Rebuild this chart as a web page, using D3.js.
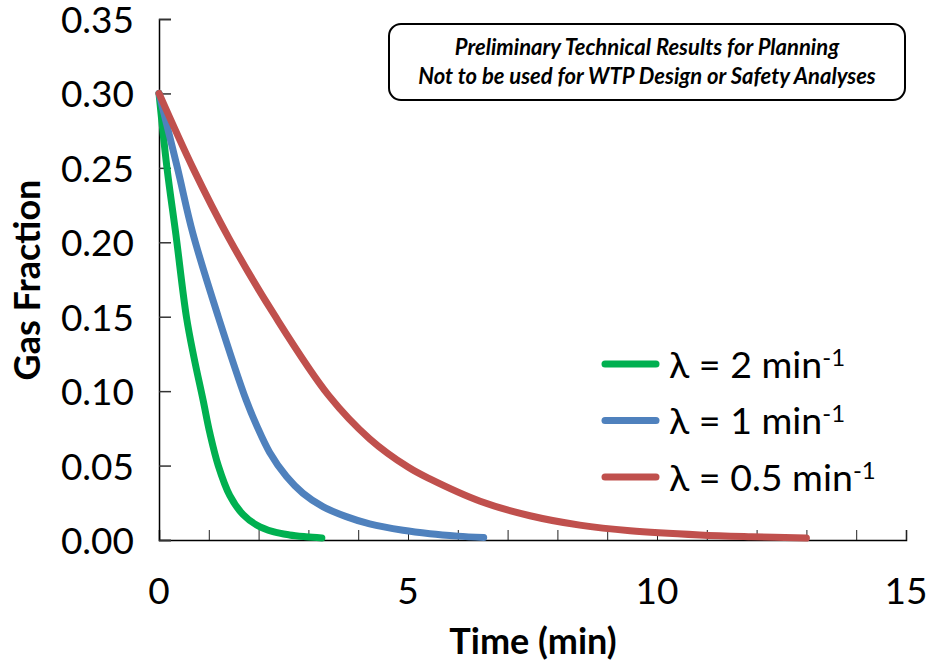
<!DOCTYPE html>
<html>
<head>
<meta charset="utf-8">
<script src="https://cdn.jsdelivr.net/npm/d3@7"></script>
<style>
  body { margin: 0; background: #fff; }
  svg { display: block; font-family: Lato, "Open Sans", sans-serif; }
</style>
</head>
<body>
<svg id="chart" width="930" height="666"></svg>
<script>
// values (time in min, gas fraction)
var lambda2 = [[0, 0.30], [0.16, 0.25], [0.34, 0.205], [0.55, 0.15], [0.70, 0.123],
  [0.885, 0.094], [1.02, 0.072], [1.19, 0.050], [1.42, 0.030], [1.69, 0.0170],
  [1.96, 0.0101], [2.29, 0.0056], [2.62, 0.0034], [2.95, 0.0022], [3.27, 0.0014]];
var lambda1 = [[0, 0.30], [0.37, 0.25], [0.68, 0.206], [1.19, 0.15], [1.75, 0.094],
  [1.96, 0.077], [2.22, 0.059], [2.56, 0.0426], [2.89, 0.0314], [3.29, 0.0224],
  [3.76, 0.0157], [4.23, 0.0108], [4.90, 0.0065], [5.44, 0.0042], [6.0, 0.0026],
  [6.52, 0.0016]];
var lambda05 = [[0, 0.30], [0.68, 0.25], [1.40, 0.203], [2.32, 0.151], [3.41, 0.097],
  [4.23, 0.068], [5.0, 0.049], [5.44, 0.041], [6.45, 0.026], [7.45, 0.0163],
  [8.45, 0.0100], [9.46, 0.0062], [10.86, 0.0034], [11.9, 0.0022], [13.0, 0.0013]];

var seriesNames = ['2', '1', '0.5'];
var seriesColors = ['#00B050', '#4F81BD', '#C0504D'];
var xTicks = [0, 5, 10, 15];
var yTicks = [0, 0.05, 0.10, 0.15, 0.20, 0.25, 0.30, 0.35];
var noteLines = ['Preliminary Technical Results for Planning',
  'Not to be used for WTP Design or Safety Analyses'];

var series = [lambda2, lambda1, lambda05].map(function (d, i) {
  return { name: seriesNames[i], color: seriesColors[i], values: d };
});

var svg = d3.select('#chart');
var M = { left: 159, right: 906, top: 19, bottom: 540 };

var x = d3.scaleLinear().domain([0, 15]).range([M.left, M.right]);
var y = d3.scaleLinear().domain([0, 0.35]).range([M.bottom, M.top]);

// x axis: minor ticks every minute pointing up, labels below
var xAxis = d3.axisTop(x).ticks(15).tickSize(10).tickFormat('');
svg.append('g')
  .attr('transform', 'translate(0,' + M.bottom + ')')
  .call(xAxis)
  .call(function (g) {
    g.select('.domain').attr('stroke', '#000').attr('stroke-width', 1.5);
    g.selectAll('.tick line').attr('stroke', '#222');
  });

svg.append('g').selectAll('text')
  .data(xTicks)
  .join('text')
  .attr('x', function (d) { return x(d); })
  .attr('y', 604)
  .attr('text-anchor', 'middle')
  .attr('font-size', 37)
  .text(function (d) { return d; });

// y axis: ticks pointing into the plot
var yAxis = d3.axisRight(y).tickValues(yTicks).tickSize(12).tickFormat('');
svg.append('g')
  .attr('transform', 'translate(' + M.left + ',0)')
  .call(yAxis)
  .call(function (g) {
    g.select('.domain').attr('stroke', '#000').attr('stroke-width', 1.5);
    g.selectAll('.tick line').attr('stroke', '#333').attr('stroke-width', 1.5);
  });

svg.append('g').selectAll('text')
  .data(yTicks)
  .join('text')
  .attr('x', 134)
  .attr('y', function (d) { return y(d) + 1; })
  .attr('dy', '0.35em')
  .attr('text-anchor', 'end')
  .attr('font-size', 37)
  .text(d3.format('.2f'));

svg.append('text')
  .attr('x', 533).attr('y', 654)
  .attr('text-anchor', 'middle')
  .attr('font-size', 36).attr('font-weight', 'bold')
  .text('Time (min)');

svg.append('text')
  .attr('transform', 'translate(40,280) rotate(-90)')
  .attr('text-anchor', 'middle')
  .attr('font-size', 36).attr('font-weight', 'bold')
  .text('Gas Fraction');

// curves
var line = d3.line()
  .x(function (d) { return x(d[0]); })
  .y(function (d) { return y(d[1]); })
  .curve(d3.curveCatmullRom.alpha(0.5));

svg.append('g').selectAll('path')
  .data(series)
  .join('path')
  .attr('d', function (s) { return line(s.values); })
  .attr('fill', 'none')
  .attr('stroke', function (s) { return s.color; })
  .attr('stroke-width', 7)
  .attr('stroke-linecap', 'round')
  .attr('stroke-linejoin', 'round');

// legend
var legend = svg.append('g').selectAll('g')
  .data(series)
  .join('g')
  .attr('transform', function (s, i) { return 'translate(605,' + (364 + i * 56.5) + ')'; });

legend.append('line')
  .attr('x1', 0).attr('x2', 51)
  .attr('stroke', function (s) { return s.color; })
  .attr('stroke-width', 7)
  .attr('stroke-linecap', 'round');

var lt = legend.append('text')
  .attr('x', 64).attr('dy', '0.36em')
  .attr('font-size', 37.5);
lt.append('tspan').text(function (s) { return '\u03bb = ' + s.name + ' min'; });
lt.append('tspan').attr('dy', '-0.5em').attr('font-size', 24).text('-1');

// disclaimer box
svg.append('rect')
  .attr('x', 389).attr('y', 24)
  .attr('width', 516).attr('height', 76)
  .attr('rx', 12)
  .attr('fill', '#fff')
  .attr('stroke', '#000')
  .attr('stroke-width', 2);

svg.append('g').selectAll('text')
  .data(noteLines)
  .join('text')
  .attr('x', 647)
  .attr('y', function (d, i) { return 55 + i * 29; })
  .attr('text-anchor', 'middle')
  .attr('font-size', 22)
  .attr('font-weight', 'bold')
  .attr('font-style', 'italic')
  .text(function (d) { return d; });
</script>
</body>
</html>
